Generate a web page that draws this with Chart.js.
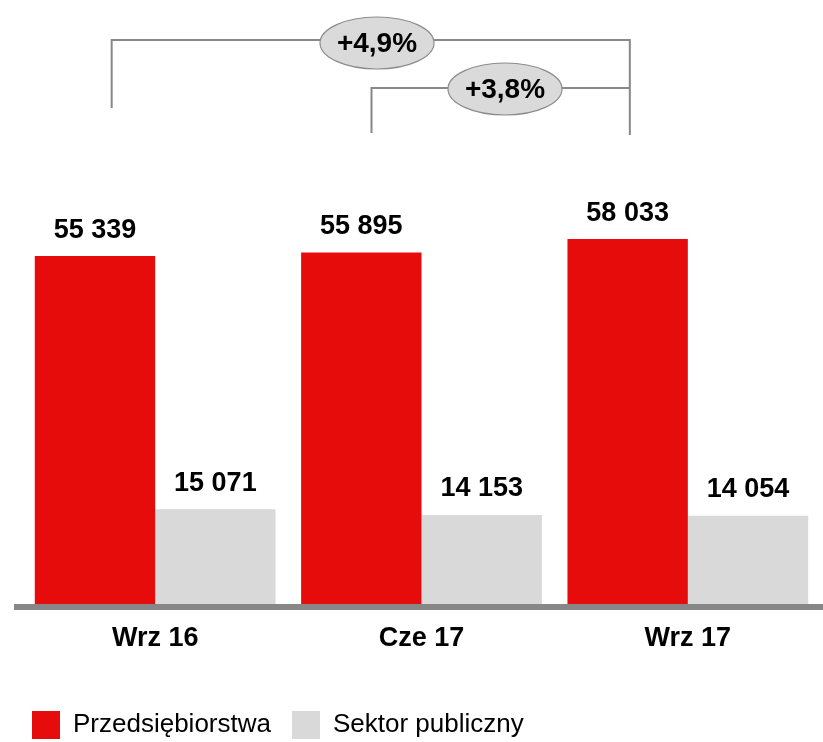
<!DOCTYPE html>
<html><head><meta charset="utf-8">
<script src="https://cdn.jsdelivr.net/npm/chart.js@4/dist/chart.umd.min.js"></script>
<style>html,body{margin:0;padding:0;background:#fff}#wrap{width:823px;height:742px}</style>
</head><body><div id="wrap"><canvas id="c"></canvas></div>
<script>
const categories = ["Wrz 16", "Cze 17", "Wrz 17"];
const przedsiebiorstwa = [55339, 55895, 58033];
const sektorPubliczny = [15071, 14153, 14054];
const seriesNames = ["Przedsiębiorstwa", "Sektor publiczny"];
const growthLabels = ["+4,9%", "+3,8%"];

const RED = "#E60C0C", GRAY = "#D9D9D9", LINE = "#888888";
const FONT = "'Liberation Sans', Arial, sans-serif";
const fmt = v => String(v).replace(/\B(?=(\d{3})+(?!\d))/g, " ");

const extras = {
  id: "extras",
  afterDatasetsDraw(chart) {
    const ctx = chart.ctx, ca = chart.chartArea, xs = chart.scales.x;
    ctx.save();
    ctx.fillStyle = "#878787";
    ctx.fillRect(14, ca.bottom, 823 - 14, 6);
    ctx.fillStyle = "#000";
    ctx.font = "bold 27px " + FONT;
    ctx.textAlign = "center";
    ctx.textBaseline = "middle";
    chart.data.datasets.forEach((ds, di) => {
      const meta = chart.getDatasetMeta(di);
      meta.data.forEach((bar, i) => {
        ctx.fillText(fmt(ds.data[i]), bar.x, bar.y - 26);
      });
    });
    const c0 = xs.getPixelForValue(0), c1 = xs.getPixelForValue(1), c2 = xs.getPixelForValue(2);
    ctx.strokeStyle = LINE; ctx.lineWidth = 2;
    const l1 = c0 - 43.5, r = c2 - 58, l2 = c1 - 50;
    ctx.beginPath();
    ctx.moveTo(l1, 108); ctx.lineTo(l1, 40); ctx.lineTo(r, 40); ctx.lineTo(r, 135);
    ctx.moveTo(l2, 133); ctx.lineTo(l2, 88); ctx.lineTo(r, 88);
    ctx.stroke();
    const ell = (cx, cy, txt) => {
      ctx.beginPath();
      ctx.ellipse(cx, cy, 57, 26, 0, 0, Math.PI * 2);
      ctx.fillStyle = "#DADADA"; ctx.fill();
      ctx.lineWidth = 1.2; ctx.strokeStyle = "#8C8C8C"; ctx.stroke();
      ctx.fillStyle = "#000"; ctx.font = "bold 28px " + FONT;
      ctx.fillText(txt, cx, cy + 1);
    };
    ell(377, 43, growthLabels[0]);
    ell(505, 89, growthLabels[1]);
    ctx.restore();
  }
};

new Chart(document.getElementById("c"), {
  type: "bar",
  data: {
    labels: categories,
    datasets: [
      { label: seriesNames[0], data: przedsiebiorstwa, backgroundColor: RED, borderWidth: 0 },
      { label: seriesNames[1], data: sektorPubliczny, backgroundColor: GRAY, borderWidth: 0 }
    ]
  },
  options: {
    responsive: true, maintainAspectRatio: false, animation: false,
    layout: { padding: { top: 101, left: 11, right: 2, bottom: -7 } },
    datasets: { bar: { barPercentage: 1, categoryPercentage: 0.904 } },
    scales: {
      y: { display: true, min: 0, max: 80000,
        grid: { display: false, drawTicks: false }, border: { display: false },
        ticks: { display: false }, afterFit(s) { s.width = 11; } },
      x: {
        grid: { display: false, drawTicks: false },
        border: { display: false },
        ticks: { color: "#000", padding: 18, font: { family: FONT, size: 27, weight: "bold" } },
        afterFit(s) { s.height = 86; }
      }
    },
    plugins: {
      tooltip: { enabled: false },
      legend: {
        position: "bottom", align: "start",
        labels: { boxWidth: 28, boxHeight: 28, padding: 21, color: "#000",
          font: { family: FONT, size: 26 } }
      }
    }
  },
  plugins: [extras]
});
</script></body></html>
